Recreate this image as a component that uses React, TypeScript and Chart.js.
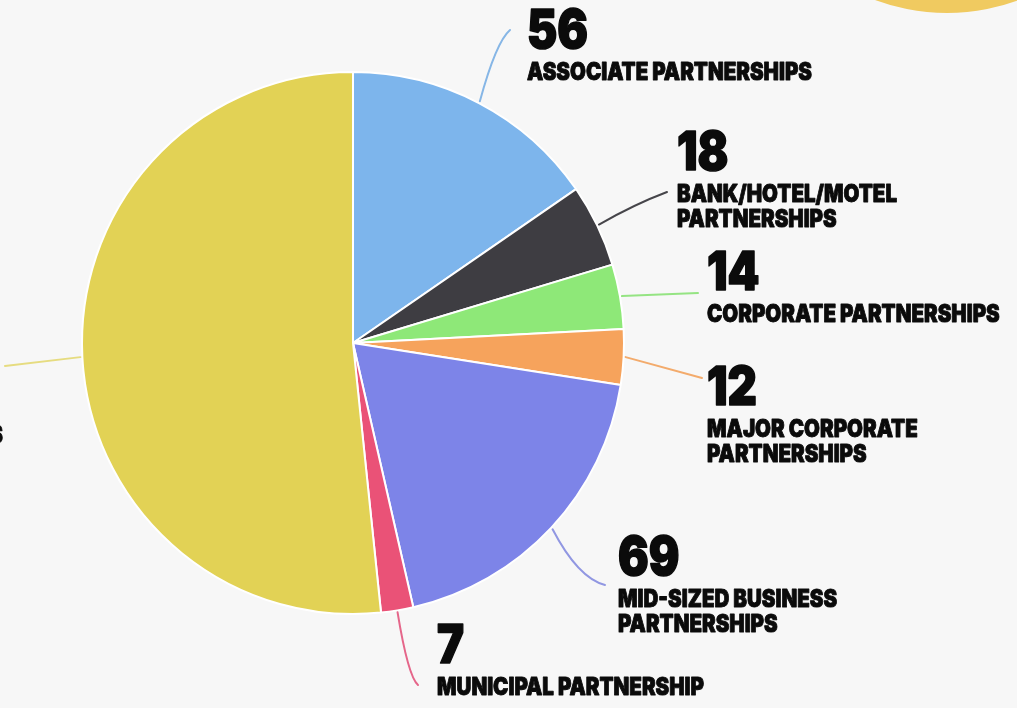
import React, { useEffect, useRef } from "react";
import { Chart, registerables } from "chart.js";

Chart.register(...registerables);

const categories = [
  "ASSOCIATE PARTNERSHIPS",
  "BANK/HOTEL/MOTEL PARTNERSHIPS",
  "CORPORATE PARTNERSHIPS",
  "MAJOR CORPORATE PARTNERSHIPS",
  "MID-SIZED BUSINESS PARTNERSHIPS",
  "MUNICIPAL PARTNERSHIP",
  "SMALL BUSINESS PARTNERSHIPS",
];
const labelLines = [
  ["ASSOCIATE PARTNERSHIPS"],
  ["BANK/HOTEL/MOTEL", "PARTNERSHIPS"],
  ["CORPORATE PARTNERSHIPS"],
  ["MAJOR CORPORATE", "PARTNERSHIPS"],
  ["MID-SIZED BUSINESS", "PARTNERSHIPS"],
  ["MUNICIPAL PARTNERSHIP"],
  ["SMALL BUSINESS PARTNERSHIPS"],
];
const values = [56, 18, 14, 12, 69, 7, 188];
const colors = ["#7db5ec", "#3e3d42", "#8ee878", "#f6a35c", "#7d84e8", "#ea5277", "#e2d255"];
const lineColors = ["#86b6e6", "#46454a", "#95e483", "#f3ab6c", "#9197e2", "#e5668a", "#e6dc80"];

// label placement (text anchor x, number baseline y, alignment of the text block)
const labelPos: [number, number, "left" | "right"][] = [
  [527, 48, "left"],
  [677, 170, "left"],
  [707, 290, "left"],
  [707, 405, "left"],
  [618, 575, "left"],
  [437, 663, "left"],
  [3, 411, "right"],
];
const leaderEnd = [[510, 30], [667, 192], [698, 293], [702, 378], [605, 585], [418, 685], [5, 366]];
const leaderCtrl: (number[] | null)[] = [[496, 42], [635, 204], null, null, [578, 578], [408, 676], null];

const FONT = 'Inter, "Noto Sans", "DejaVu Sans", sans-serif';
const NUM_FONT = `900 54px ${FONT}`;
const LAB_FONT = `900 24px ${FONT}`;

const labelsPlugin = {
  id: "leaderLabels",
  beforeDraw(chart: any) {
    const { ctx, width, height } = chart;
    ctx.save();
    ctx.fillStyle = "#f7f7f7";
    ctx.fillRect(0, 0, width, height);
    ctx.fillStyle = "#f0ca60";
    ctx.beginPath();
    ctx.arc(947, -193, 206, 0, Math.PI * 2);
    ctx.fill();
    ctx.restore();
  },
  afterDatasetsDraw(chart: any) {
    const { ctx } = chart;
    const meta = chart.getDatasetMeta(0);
    ctx.save();
    ctx.font = NUM_FONT;
    const numScale = 61 / ctx.measureText("56").width;
    ctx.font = LAB_FONT;
    const labScale = 285 / ctx.measureText("ASSOCIATE PARTNERSHIPS").width;

    meta.data.forEach((arc: any, i: number) => {
      const p = arc.getProps(["x", "y", "startAngle", "endAngle", "outerRadius"], true);
      const mid = (p.startAngle + p.endAngle) / 2;
      const sx = p.x + Math.cos(mid) * (p.outerRadius + 2);
      const sy = p.y + Math.sin(mid) * (p.outerRadius + 2);
      ctx.strokeStyle = lineColors[i];
      ctx.lineWidth = 2;
      ctx.lineCap = "round";
      ctx.beginPath();
      ctx.moveTo(sx, sy);
      const c = leaderCtrl[i];
      if (c) ctx.quadraticCurveTo(c[0], c[1], leaderEnd[i][0], leaderEnd[i][1]);
      else ctx.lineTo(leaderEnd[i][0], leaderEnd[i][1]);
      ctx.stroke();

      const [lx, ly, align] = labelPos[i];
      ctx.font = LAB_FONT;
      const maxW = Math.max(...labelLines[i].map((t) => ctx.measureText(t).width * labScale));
      const left = align === "right" ? lx - maxW : lx;
      ctx.fillStyle = "#0b0b0b";
      ctx.strokeStyle = "#0b0b0b";
      ctx.lineJoin = "round";
      ctx.textAlign = "left";
      ctx.textBaseline = "alphabetic";
      ctx.save();
      ctx.translate(left, ly);
      ctx.scale(numScale, 1);
      ctx.font = NUM_FONT;
      ctx.lineWidth = 1.6;
      ctx.fillText(String(values[i]), 0, 0);
      ctx.strokeText(String(values[i]), 0, 0);
      ctx.restore();
      labelLines[i].forEach((t, j) => {
        ctx.save();
        ctx.translate(left, ly + 32 + j * 25);
        ctx.scale(labScale, 1);
        ctx.font = LAB_FONT;
        ctx.lineWidth = 0.9;
        ctx.fillText(t, 0, 0);
        ctx.strokeText(t, 0, 0);
        ctx.restore();
      });
    });
    ctx.restore();
  },
};

export default function App() {
  const ref = useRef<HTMLCanvasElement | null>(null);
  useEffect(() => {
    document.body.style.margin = "0";
    const chart = new Chart(ref.current as HTMLCanvasElement, {
      type: "pie",
      data: {
        labels: categories,
        datasets: [
          {
            data: values,
            backgroundColor: colors,
            borderColor: "#ffffff",
            borderWidth: 2,
          },
        ],
      },
      options: {
        responsive: false,
        animation: false,
        layout: { padding: { left: 81, right: 392, top: 71, bottom: 93 } },
        plugins: {
          legend: { display: false },
          tooltip: { enabled: false },
        },
      },
      plugins: [labelsPlugin],
    });
    document.fonts.load(`900 54px Inter`).then(() => chart.draw()).catch(() => {});
    return () => chart.destroy();
  }, []);
  return (
    <div style={{ position: "fixed", left: 0, top: 0, width: 1017, height: 708, background: "#f7f7f7" }}>
      <canvas ref={ref} width={1017} height={708} style={{ display: "block" }} />
    </div>
  );
}
